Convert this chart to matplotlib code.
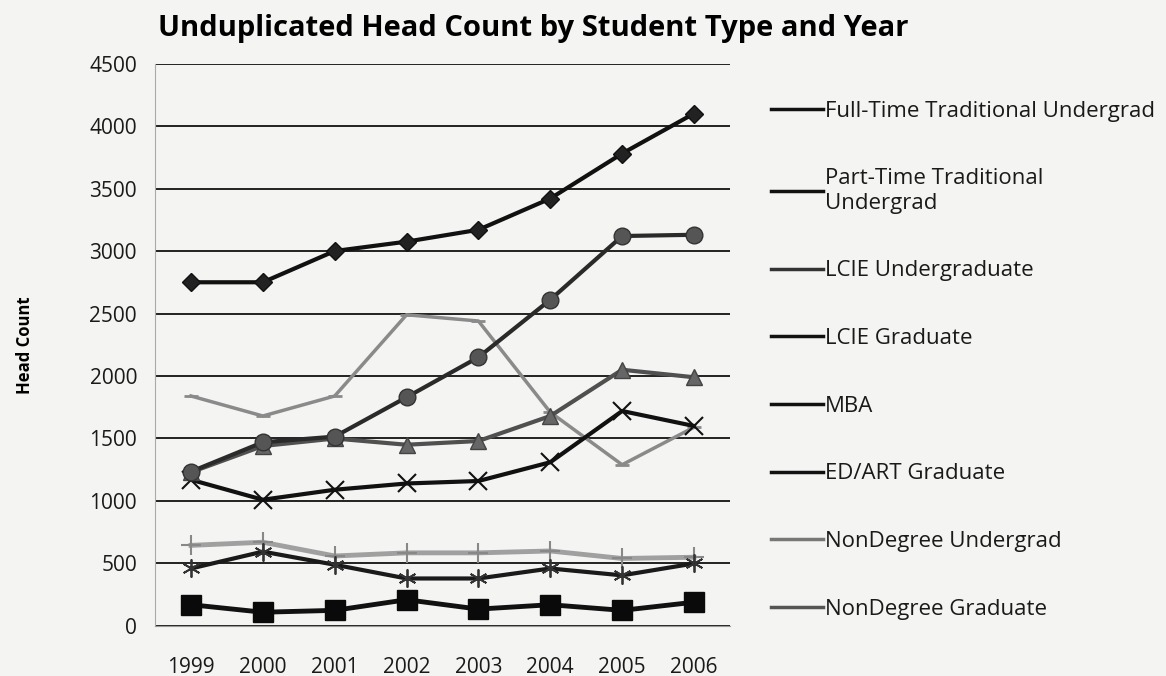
import matplotlib.pyplot as plt
from matplotlib.lines import Line2D

plt.rcParams['font.family'] = ['Open Sans', 'DejaVu Sans']

years = ['1999', '2000', '2001', '2002', '2003', '2004', '2005', '2006']

full_time_trad_ug = [2750, 2750, 3000, 3075, 3170, 3420, 3780, 4100]
part_time_trad_ug = [170, 110, 125, 210, 135, 170, 125, 190]
lcie_undergrad = [1230, 1440, 1500, 1450, 1480, 1680, 2050, 1990]
lcie_graduate = [1170, 1010, 1090, 1140, 1160, 1310, 1720, 1600]
mba = [460, 595, 490, 380, 380, 460, 405, 500]
ed_art_graduate = [1235, 1470, 1515, 1830, 2150, 2610, 3120, 3130]
nondegree_ug = [645, 670, 560, 585, 585, 600, 540, 550]
nondegree_grad = [1840, 1680, 1840, 2490, 2440, 1710, 1290, 1590]

labels = ['Full-Time Traditional Undergrad', 'Part-Time Traditional\nUndergrad',
          'LCIE Undergraduate', 'LCIE Graduate', 'MBA', 'ED/ART Graduate',
          'NonDegree Undergrad', 'NonDegree Graduate']

bg = '#f4f4f2'
fig = plt.figure(figsize=(11.66, 6.76), dpi=100, facecolor=bg)
ax = fig.add_axes([0.133, 0.074, 0.493, 0.832], facecolor=bg)

x = range(len(years))
# series drawn back to front
ax.plot(x, nondegree_grad, color='#8a8a8a', lw=2.5, marker='_', ms=10, mew=2)
ax.plot(x, nondegree_ug, color='#a0a0a0', lw=3.5, marker='+', ms=14, mew=1.5, mec='#888888')
ax.plot(x, mba, color='#1a1a1a', lw=3, marker=(6, 2, 0), ms=13, mec='#333333', mew=1.3)
ax.plot(x, lcie_graduate, color='#111111', lw=3, marker='x', ms=13, mew=1.5)
ax.plot(x, lcie_undergrad, color='#505050', lw=3, marker='^', ms=11, mfc='#666666', mec='#444444')
ax.plot(x, ed_art_graduate, color='#2a2a2a', lw=3, marker='o', ms=12, mfc='#555555', mec='#333333')
ax.plot(x, part_time_trad_ug, color='#111111', lw=3.5, marker='s', ms=14, mfc='#0a0a0a', mec='#0a0a0a')
ax.plot(x, full_time_trad_ug, color='#111111', lw=3, marker='D', ms=9, mfc='#222222', mec='#111111')

ax.set_xlim(-0.5, 7.5)
ax.set_ylim(0, 4500)
ax.set_yticks(range(0, 4501, 500))
ax.set_xticks(list(x))
ax.set_xticklabels(years)
ax.tick_params(length=0, labelsize=15, colors='#1a1a1a')
ax.tick_params(axis='x', pad=22)
ax.tick_params(axis='y', pad=13)
ax.grid(axis='y', color='#111111', lw=1.3)
ax.set_axisbelow(True)
for s in ['top', 'right']:
    ax.spines[s].set_visible(False)
ax.spines['left'].set_color('#aaaaaa')
ax.spines['left'].set_linewidth(0.8)
ax.spines['bottom'].set_color('#999999')
ax.spines['bottom'].set_linewidth(0.8)

ax.set_ylabel('Head Count', fontsize=12, fontweight='bold', labelpad=40)
fig.text(0.457, 0.958, 'Unduplicated Head Count by Student Type and Year',
         ha='center', va='center', fontsize=21, fontweight='bold')

legend_colors = ['#111111', '#111111', '#333333', '#111111', '#111111', '#111111', '#777777', '#555555']
handles = [Line2D([], [], color=c, lw=2.5) for c in legend_colors]
leg = fig.legend(handles, labels, loc='upper left', bbox_to_anchor=(0.654, 0.864),
                 frameon=False, fontsize=16, labelspacing=2.1, handlelength=2.3,
                 handletextpad=0.1, borderaxespad=0)
for t in leg.get_texts():
    t.set_color('#1a1a1a')

fig.savefig('out.png', dpi=100, facecolor=bg)
